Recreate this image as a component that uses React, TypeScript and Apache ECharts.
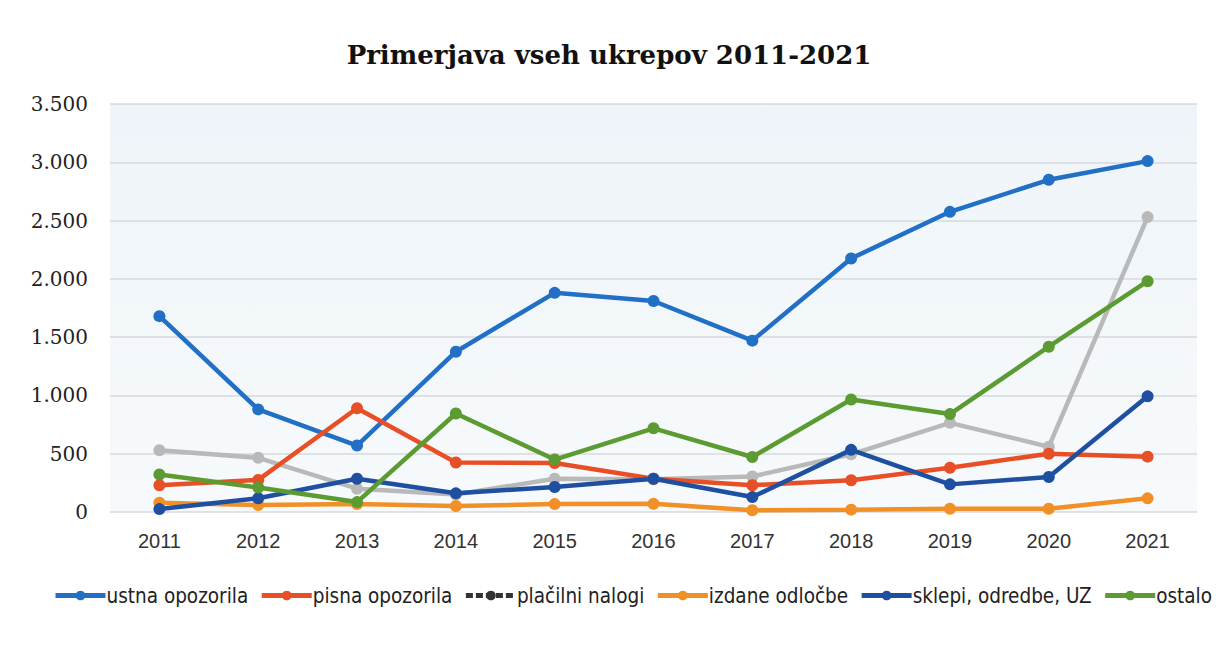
import React, { useEffect, useRef } from "react";
import * as echarts from "echarts";

const years = ["2011", "2012", "2013", "2014", "2015", "2016", "2017", "2018", "2019", "2020", "2021"];
const ustnaOpozorila = [1680, 880, 570, 1375, 1880, 1810, 1470, 2175, 2575, 2850, 3010];
const pisnaOpozorila = [230, 275, 890, 425, 420, 285, 230, 272, 380, 500, 475];
const placilniNalogi = [530, 465, 200, 150, 285, 280, 305, 495, 765, 560, 2530];
const izdaneOdlocbe = [80, 60, 68, 52, 68, 70, 15, 20, 28, 28, 117];
const sklepiOdredbe = [25, 118, 285, 160, 215, 285, 128, 533, 237, 300, 992];
const ostalo = [322, 210, 85, 845, 450, 718, 472, 965, 840, 1418, 1980];
const yTicks = [0, 500, 1000, 1500, 2000, 2500, 3000, 3500];

const seriesDefs = [
  { name: "ustna opozorila", data: ustnaOpozorila, color: "#2170c6" },
  { name: "pisna opozorila", data: pisnaOpozorila, color: "#e84f26" },
  { name: "plačilni nalogi", data: placilniNalogi, color: "#b9b9b9" },
  { name: "izdane odločbe", data: izdaneOdlocbe, color: "#f29028" },
  { name: "sklepi, odredbe, UZ", data: sklepiOdredbe, color: "#1e4fa0" },
  { name: "ostalo", data: ostalo, color: "#5c9b31" },
];

const fmt = (v: number) => String(v).replace(/\B(?=(\d{3})+(?!\d))/g, ".");

export default function App() {
  const ref = useRef<HTMLDivElement>(null);
  useEffect(() => {
    if (!ref.current) return;
    const chart = echarts.init(ref.current, null, { renderer: "svg" });
    chart.setOption({
      animation: false,
      backgroundColor: "#ffffff",
      title: {
        text: "Primerjava vseh ukrepov 2011-2021",
        left: "center",
        top: 37,
        textStyle: {
          fontFamily: "'DejaVu Serif', 'Liberation Serif', serif",
          fontWeight: "bold",
          fontSize: 26,
          color: "#111",
        },
      },
      grid: {
        left: 110,
        right: 21,
        top: 104,
        bottom: 149,
        show: true,
        borderWidth: 0,
        backgroundColor: new echarts.graphic.LinearGradient(0, 0, 0, 1, [
          { offset: 0, color: "#eef4f9" },
          { offset: 1, color: "#f7fafc" },
        ]),
      },
      legend: {
        bottom: 50,
        left: 48,
        itemWidth: 50,
        itemHeight: 12,
        itemGap: 11,
        lineStyle: { width: 5 },
        textStyle: {
          fontFamily: "'Liberation Sans Narrow', 'DejaVu Sans Condensed', sans-serif",
          fontSize: 20.5,
          color: "#222",
          padding: [0, 0, 0, -4],
        },
        data: seriesDefs.map((s) =>
          s.name === "plačilni nalogi"
            ? { name: s.name, itemStyle: { color: "#333" }, lineStyle: { color: "#333", type: [7, 3], width: 5 } }
            : { name: s.name }
        ),
      },
      xAxis: {
        type: "category",
        data: years,
        boundaryGap: true,
        axisLine: { show: false },
        axisTick: { show: false },
        axisLabel: {
          margin: 19,
          fontFamily: "'Liberation Sans', sans-serif",
          fontSize: 20,
          color: "#333",
        },
      },
      yAxis: {
        type: "value",
        min: yTicks[0],
        max: yTicks[yTicks.length - 1],
        interval: 500,
        axisLine: { show: false },
        axisTick: { show: false },
        splitLine: { lineStyle: { color: "#d6dadd", width: 1.5 } },
        axisLabel: {
          margin: 22,
          fontFamily: "'DejaVu Serif', 'Liberation Serif', serif",
          fontSize: 20,
          color: "#222",
          formatter: (v: number) => fmt(v),
        },
      },
      series: seriesDefs.map((s) => ({
        name: s.name,
        type: "line",
        data: s.data,
        symbol: "circle",
        symbolSize: 12,
        lineStyle: { width: 4.5, color: s.color },
        itemStyle: { color: s.color },
        z: s.name === "plačilni nalogi" ? 1 : 2,
      })),
    });
    return () => chart.dispose();
  }, []);
  return <div ref={ref} style={{ position: "fixed", left: 0, top: 0, width: 1218, height: 661 }} />;
}
